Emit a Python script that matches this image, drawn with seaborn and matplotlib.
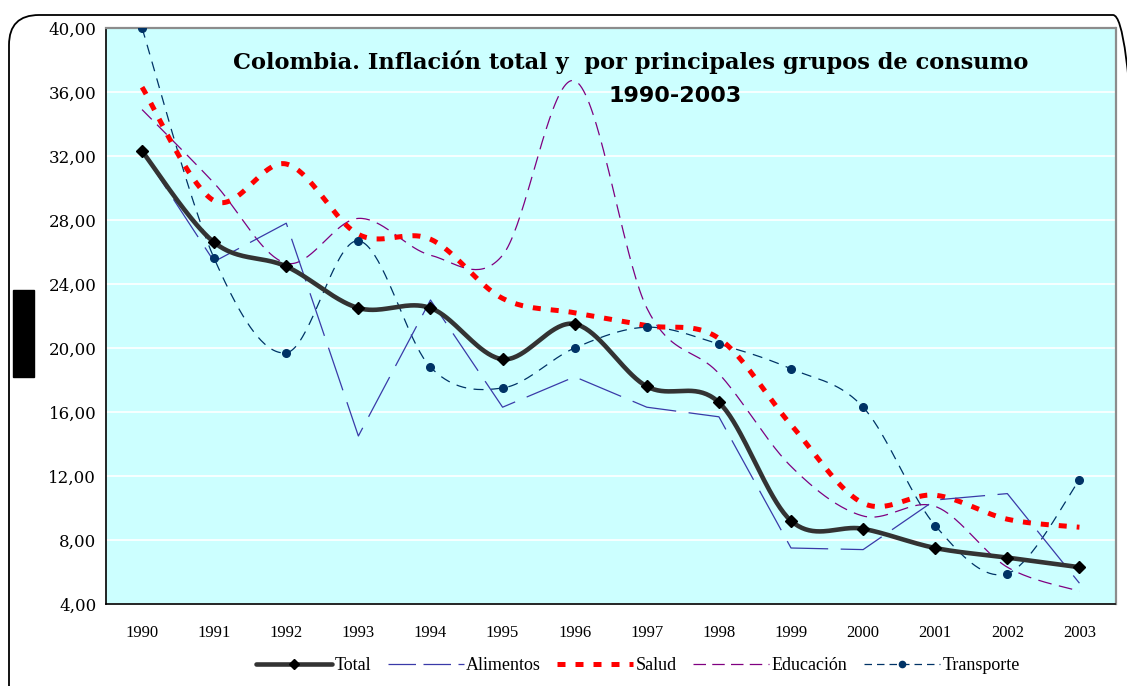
import numpy as np
import matplotlib
matplotlib.use("Agg")
import matplotlib.pyplot as plt
import seaborn as sns
from matplotlib.lines import Line2D
from matplotlib.patches import FancyBboxPatch, Rectangle
from matplotlib.transforms import IdentityTransform

years = list(range(1990, 2004))
total = [32.3, 26.6, 25.1, 22.5, 22.5, 19.3, 21.5, 17.6, 16.6, 9.2, 8.7, 7.5, 6.9, 6.3]
alimentos = [32.3, 25.4, 27.8, 14.5, 23.0, 16.3, 18.2, 16.3, 15.7, 7.5, 7.4, 10.5, 10.9, 5.3]
salud = [36.3, 29.2, 31.5, 27.1, 26.8, 23.1, 22.2, 21.4, 20.6, 15.2, 10.3, 10.8, 9.3, 8.8]
educacion = [34.9, 30.3, 25.3, 28.1, 25.8, 25.8, 36.7, 22.5, 18.4, 12.6, 9.5, 10.1, 6.3, 4.8]
transporte = [40.0, 25.6, 19.7, 26.7, 18.8, 17.5, 20.0, 21.3, 20.25, 18.7, 16.3, 8.9, 5.9, 11.75]

title1 = "Colombia. Inflación total y  por principales grupos de consumo"
title2 = "1990-2003"
legend_names = ["Total", "Alimentos", "Salud", "Educación", "Transporte"]


def smooth(x, y, n=40):
    # Excel-like smoothed line: cubic bezier through the points
    P = np.column_stack([x, y]).astype(float)
    out = []
    for i in range(len(P) - 1):
        p0 = P[i - 1] if i > 0 else P[i]
        p3 = P[i + 2] if i + 2 < len(P) else P[i + 1]
        c1 = P[i] + (P[i + 1] - p0) / 6
        c2 = P[i + 1] - (p3 - P[i]) / 6
        t = np.linspace(0, 1, n, endpoint=(i == len(P) - 2))[:, None]
        seg = ((1 - t) ** 3) * P[i] + 3 * ((1 - t) ** 2) * t * c1 + 3 * (1 - t) * t ** 2 * c2 + t ** 3 * P[i + 1]
        out.append(seg)
    out = np.vstack(out)
    return out[:, 0], out[:, 1]


sns.set_style("white")
plt.rcParams["text.color"] = "black"
plt.rcParams["xtick.color"] = "black"
plt.rcParams["ytick.color"] = "black"

fig = plt.figure(figsize=(11.27, 6.86), dpi=100)
ax = fig.add_axes([106 / 1127, 1 - 604 / 686, (1115.5 - 106) / 1127, (604 - 28) / 686])
ax.set_facecolor("#CCFFFF")

c_total = "#333333"
c_alim = "#3A3AA8"
c_salud = "#FF0000"
c_edu = "#800080"
c_trans = "#003366"

# Transporte
sx, sy = smooth(years, transporte)
sns.lineplot(x=sx, y=sy, ax=ax, color=c_trans, lw=0.9, linestyle=(0, (8, 6)), sort=False, zorder=3)
ax.plot(years, transporte, "o", color=c_trans, ms=5.5, zorder=4)

# Educacion
sx, sy = smooth(years, educacion)
sns.lineplot(x=sx, y=sy, ax=ax, color=c_edu, lw=0.9, linestyle=(0, (11, 6)), sort=False, zorder=3)

# Salud
sx, sy = smooth(years, salud)
sns.lineplot(x=sx, y=sy, ax=ax, color=c_salud, lw=3.6, linestyle=(0, (1.6, 2.0)), sort=False, zorder=3)

# Alimentos
sns.lineplot(x=years, y=alimentos, ax=ax, color=c_alim, lw=0.9, linestyle=(0, (36, 10)), sort=False, zorder=3)

# Total
sx, sy = smooth(years, total)
sns.lineplot(x=sx, y=sy, ax=ax, color=c_total, lw=3.3, sort=False, zorder=5)
ax.plot(years, total, "D", color="black", ms=6, zorder=6)

ax.set_xlim(1989.5, 2003.5)
ax.set_ylim(4, 40)
ax.set_yticks(np.arange(4, 41, 4))
ax.set_yticklabels([f"{v:.2f}".replace(".", ",") for v in np.arange(4, 41, 4)],
                   family="DejaVu Serif", fontsize=12)
ax.set_xticks(years)
ax.set_xticklabels([str(y) for y in years], family="Liberation Serif", fontsize=12)
ax.set_xticks(np.arange(1989.5, 2004, 1), minor=True)
ax.tick_params(axis="x", which="both", direction="out", length=6, width=1, color="black", pad=9)
ax.tick_params(axis="y", direction="out", length=5, width=1, color="black", pad=2)
ax.grid(axis="y", color="white", lw=1.2)
ax.grid(axis="x", visible=False)
ax.set_axisbelow(True)
ax.set_xlabel("")
ax.set_ylabel("")
for side in ["left", "bottom"]:
    ax.spines[side].set_color("black")
    ax.spines[side].set_linewidth(1.2)
for side in ["top", "right"]:
    ax.spines[side].set_color("#8C8C8C")
    ax.spines[side].set_linewidth(1.6)

ax.text(0.520, 0.940, title1, transform=ax.transAxes, ha="center", va="center",
        family="DejaVu Serif", fontweight="bold", fontsize=16.2, color="black")
ax.text(0.564, 0.882, title2, transform=ax.transAxes, ha="center", va="center",
        family="DejaVu Sans", fontweight="bold", fontsize=16, color="black")

handles = [
    Line2D([], [], color=c_total, lw=3.3, marker="D", ms=5, mfc="black", mec="black"),
    Line2D([], [], color=c_alim, lw=0.9, linestyle=(0, (22, 6))),
    Line2D([], [], color=c_salud, lw=3.6, linestyle=(0, (1.6, 2.0))),
    Line2D([], [], color=c_edu, lw=0.9, linestyle=(0, (10, 5))),
    Line2D([], [], color=c_trans, lw=0.9, linestyle=(0, (6, 4)), marker="o", ms=4.5),
]
fig.legend(handles, legend_names, loc="center", bbox_to_anchor=(638 / 1127, 1 - 666 / 686),
           ncol=5, frameon=False, prop={"family": "Liberation Serif", "size": 13},
           handlelength=4.2, handletextpad=0.15, columnspacing=0.9)

# outer chart frame and side box
frame = FancyBboxPatch((9, -40), 1134, 711, boxstyle="round,pad=0,rounding_size=30",
                       transform=IdentityTransform(), fill=False, ec="black", lw=1.3, zorder=-5)
fig.patches.append(frame)
fig.patches.append(Rectangle((13, 686 - 377), 21, 87, transform=IdentityTransform(),
                             fc="black", ec="black", zorder=-5))

fig.savefig("out.png", dpi=100)
